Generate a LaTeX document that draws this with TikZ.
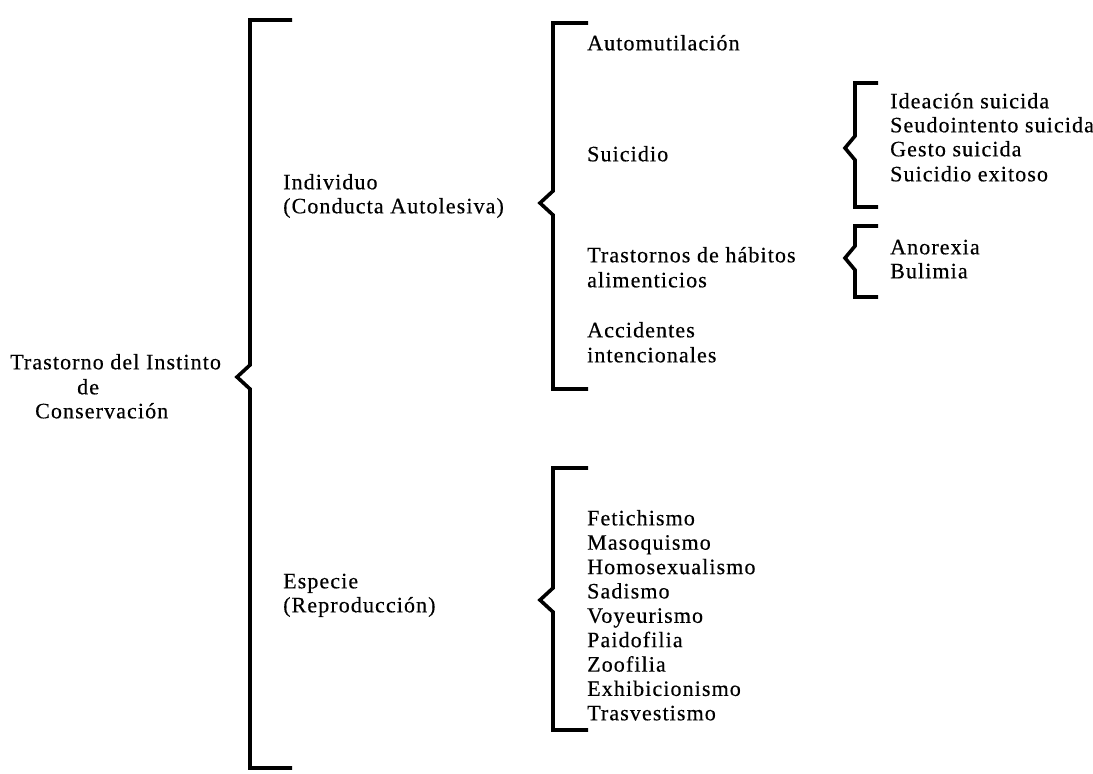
\documentclass[tikz,border=0pt]{standalone}
\usepackage{fontspec}
\setmainfont[LetterSpace=5,FakeBold=0.4]{Liberation Serif}
\begin{document}
\begin{tikzpicture}[x=1pt,y=-1pt,
  lbl/.style={anchor=mid west,inner sep=0pt,yshift=-4pt,font=\fontsize{22}{24}\selectfont},
  brk/.style={line width=3.6pt,line join=miter,line cap=butt}]
\useasboundingbox (0,0) rectangle (1093,774);
% brackets
\newcommand{\brkt}[6]{% x, top, notch, bottom, right, tip
  \draw[brk] (#5,#2) -- (#1,#2) -- (#1,#3-12) -- (#6,#3) -- (#1,#3+12) -- (#1,#4) -- (#5,#4);}
\brkt{250}{20}{377}{768}{292}{237}
\brkt{553}{23}{203}{389}{588}{540}
\brkt{553}{468}{600}{730}{588}{540}
\brkt{855}{83}{148}{207}{878}{845}
\brkt{855}{226}{258}{297}{878}{845}
% root
\node[lbl] (r1) at (10,363) {Trastorno del Instinto};
\node[lbl] (r2) at (77,388) {de};
\node[lbl] (r3) at (35,412) {Conservación};
% level 1
\node[lbl] (i1) at (283,183) {Individuo};
\node[lbl] (i2) at (283,207) {(Conducta Autolesiva)};
\node[lbl] (e1) at (283,582) {Especie};
\node[lbl] (e2) at (283,606) {(Reproducción)};
% level 2
\node[lbl] (a1) at (587,44) {Automutilación};
\node[lbl] (a2) at (587,155) {Suicidio};
\node[lbl] (a3) at (587,256) {Trastornos de hábitos};
\node[lbl] (a3b) at (587,281) {alimenticios};
\node[lbl] (a4) at (587,331) {Accidentes};
\node[lbl] (a4b) at (587,356) {intencionales};
% level 3
\node[lbl] (s1) at (890,102) {Ideación suicida};
\node[lbl] (s2) at (890,126) {Seudointento suicida};
\node[lbl] (s3) at (890,150) {Gesto suicida};
\node[lbl] (s4) at (890,175) {Suicidio exitoso};
\node[lbl] (t1) at (890,248) {Anorexia};
\node[lbl] (t2) at (890,272) {Bulimia};
% especie list
\node[lbl] (p1) at (587,519) {Fetichismo};
\node[lbl] (p2) at (587,543.4) {Masoquismo};
\node[lbl] (p3) at (587,567.8) {Homosexualismo};
\node[lbl] (p4) at (587,592.1) {Sadismo};
\node[lbl] (p5) at (587,616.5) {Voyeurismo};
\node[lbl] (p6) at (587,640.9) {Paidofilia};
\node[lbl] (p7) at (587,665.3) {Zoofilia};
\node[lbl] (p8) at (587,689.6) {Exhibicionismo};
\node[lbl] (p9) at (587,714) {Trasvestismo};
\end{tikzpicture}
\end{document}
